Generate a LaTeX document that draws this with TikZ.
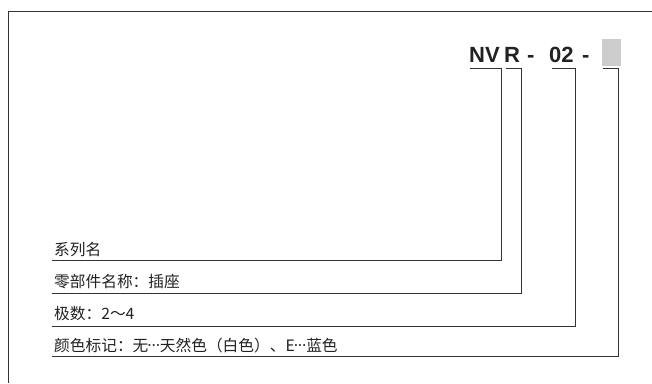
\documentclass[tikz,border=0pt]{standalone}
\usepackage{fontspec}
\setmainfont{Liberation Sans}
\newfontfamily\cjk{Noto Sans CJK SC}
\definecolor{ink}{HTML}{222222}
\definecolor{rule}{HTML}{333333}
\definecolor{slot}{HTML}{CCCCCC}
\newcommand{\midell}{\makebox[11.5pt]{\raisebox{1.8pt}{\rmfamily\bfseries\fontsize{12}{12}\selectfont ·\kern0.2pt·\kern0.2pt·}}}

\begin{document}
\begin{tikzpicture}[x=1pt,y=-1pt,
  code/.style={anchor=base west, inner sep=0pt, text=ink, font=\bfseries\fontsize{22}{22}\selectfont},
  label/.style={anchor=base west, inner sep=0pt, text=ink, font=\cjk\fontsize{15.7}{15.7}\selectfont},
  lead/.style={draw=rule, line width=0.9pt}]
\useasboundingbox (0,0) rectangle (652,383);
\path[draw=rule,line width=1pt] (652,11.5) -- (8.5,11.5) -- (8.5,383);
\node[code] (nv) at (469,62) {NV};
\node[code] (r) at (504,62) {R};
\node[code] (d1) at (527,62) {-};
\node[code] (02) at (549,62) {02};
\node[code] (d2) at (582,62) {-};
\node[fill=slot, inner sep=0pt, minimum width=19pt, minimum height=27pt, anchor=north west] (box) at (602,39) {};
\node[label] (l1) at (54,255) {系列名};
\node[label] (l2) at (54,287) {零部件名称：插座};
\node[label] (l3) at (54,319) {极数：2～4};
\node[label] (l4) at (54,351) {颜色标记：无\midell 天然色（白色）、E\midell 蓝色};
\coordinate (1a) at (470,68.5);
\coordinate (1b) at (501,68.5);
\coordinate (1c) at (52,260);
\coordinate (2a) at (506,68.5);
\coordinate (2b) at (521,68.5);
\coordinate (2c) at (52,293);
\coordinate (3a) at (552,68.5);
\coordinate (3b) at (575,68.5);
\coordinate (3c) at (52,326);
\coordinate (4a) at (603,68.5);
\coordinate (4b) at (618.5,68.5);
\coordinate (4c) at (52,356);
\path[lead] (1a) -- (1b) |- (1c);
\path[lead] (2a) -- (2b) |- (2c);
\path[lead] (3a) -- (3b) |- (3c);
\path[lead] (4a) -- (4b) |- (4c);
\end{tikzpicture}
\end{document}
